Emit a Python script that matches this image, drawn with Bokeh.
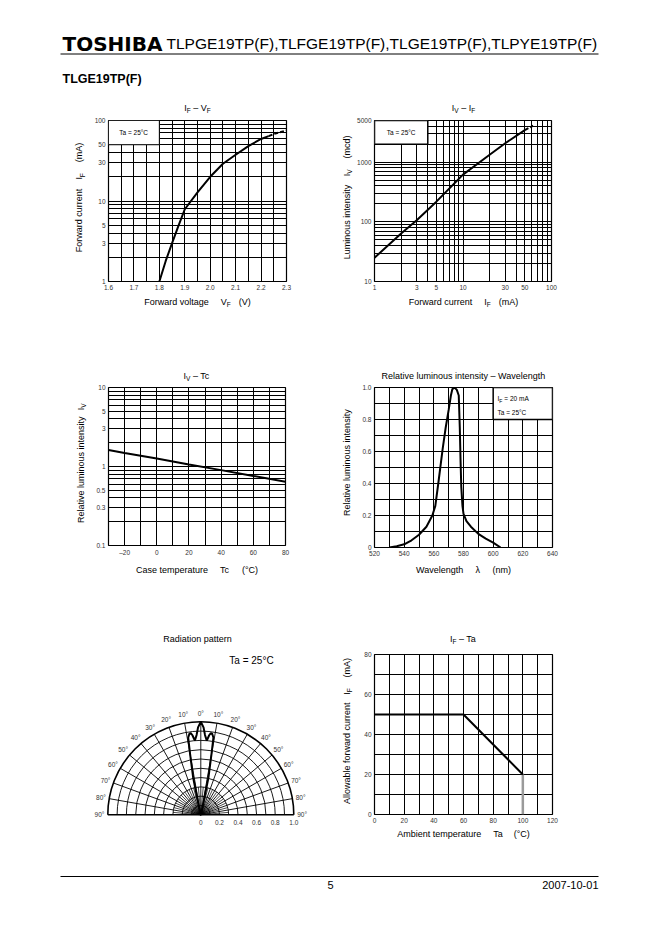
import math
import numpy as np
from bokeh.plotting import figure
from bokeh.models import Label, FixedTicker, Range1d
from bokeh.layouts import column, row
from bokeh.embed import file_html
from bokeh.resources import INLINE
from bokeh.core.properties import value

FONT = "Liberation Sans"

# ---------------- data ----------------
# IF - VF  (Ta = 25 C)
vf_volt = [1.80, 1.825, 1.85, 1.875, 1.90, 1.95, 2.00, 2.05, 2.10, 2.15, 2.20, 2.23]
vf_curr = [1.0, 1.8, 3.0, 4.9, 7.9, 12.8, 20, 29, 37.5, 48, 59, 64]
vf_volt_dash = [2.23, 2.25, 2.30]
vf_curr_dash = [64, 68, 75]
vf_xticks = [1.6, 1.7, 1.8, 1.9, 2.0, 2.1, 2.2, 2.3]
vf_xlabels = ["1.6", "1.7", "1.8", "1.9", "2.0", "2.1", "2.2", "2.3"]
vf_xgrid = [1.65, 1.7, 1.75, 1.8, 1.85, 1.9, 1.95, 2.0, 2.05, 2.1, 2.15, 2.2, 2.25]
vf_yticks = [1, 3, 5, 10, 30, 50, 100]
vf_ygrid = [2, 3, 4, 5, 6, 7, 8, 9, 10, 20, 30, 40, 50, 60, 70, 80, 90]

# IV - IF
ivif_curr = [1, 2, 3, 5, 10, 20, 30, 50]
ivif_lum = [25, 64, 106, 218, 620, 1330, 2080, 3450]
ivif_curr_dash = [50, 62]
ivif_lum_dash = [3450, 4100]
ivif_xticks = [1, 3, 5, 10, 30, 50, 100]
ivif_xgrid = [2, 3, 4, 5, 6, 7, 8, 9, 10, 20, 30, 40, 50, 60, 70, 80, 90]
ivif_yticks = [10, 100, 1000, 5000]
ivif_ygrid = [20, 30, 40, 50, 60, 70, 80, 90, 100, 200, 300, 400, 500, 600, 700, 800, 900,
              1000, 2000, 3000, 4000]

# IV - Tc
tc_temp = [-30, -20, 0, 20, 40, 60, 80]
tc_rel = [1.62, 1.48, 1.26, 1.06, 0.90, 0.76, 0.64]
tc_xticks = [-20, 0, 20, 40, 60, 80]
tc_xlabels = ["–20", "0", "20", "40", "60", "80"]
tc_xgrid = [-20, -10, 0, 10, 20, 30, 40, 50, 60, 70]
tc_yticks = [0.1, 0.3, 0.5, 1, 3, 5, 10]
tc_ygrid = [0.2, 0.3, 0.4, 0.5, 0.6, 0.7, 0.8, 0.9, 1, 2, 3, 4, 5, 6, 7, 8, 9]

# Relative luminous intensity - wavelength
wl_nm = [530, 535, 540, 545, 550, 555, 559, 561, 563, 566, 568, 570, 571.5, 572.5, 574,
         575.5, 576.8, 577.5, 578.0, 578.5, 579.3, 580, 582, 585, 590, 595, 600, 605]
wl_rel = [0.0, 0.008, 0.02, 0.045, 0.08, 0.13, 0.2, 0.26, 0.4, 0.62, 0.75, 0.86, 0.95, 0.99, 1.0,
          0.985, 0.95, 0.75, 0.55, 0.38, 0.26, 0.21, 0.165, 0.13, 0.085, 0.055, 0.03, 0.0]
wl_xticks = [520, 540, 560, 580, 600, 620, 640]
wl_xgrid = [530, 540, 550, 560, 570, 580, 590, 600, 610, 620, 630]
wl_yticks = [0, 0.2, 0.4, 0.6, 0.8, 1.0]
wl_ylabels = ["0", "0.2", "0.4", "0.6", "0.8", "1.0"]
wl_ygrid = [0.1, 0.2, 0.3, 0.4, 0.5, 0.6, 0.7, 0.8, 0.9]

# Radiation pattern
pat_deg = [-14, -13, -11.6, -10, -9.3, -8, -7, -6, -4.6, -3, -1.8, 0,
           1.8, 3, 4.6, 6, 7, 8, 9.3, 10, 11.6, 13, 14]
pat_r = [0.0, 0.08, 0.41, 0.66, 0.84, 0.88, 0.885, 0.86, 0.80, 0.86, 0.94, 1.0,
         0.94, 0.86, 0.80, 0.86, 0.885, 0.88, 0.84, 0.66, 0.41, 0.08, 0.0]
polar_arcs = [0.1, 0.2, 0.3, 0.4, 0.5, 0.6, 0.7, 0.8, 0.9]
polar_spokes = [-80, -70, -60, -50, -40, -30, -20, -10, 0, 10, 20, 30, 40, 50, 60, 70, 80]
polar_fine_spokes = [-85, -75, -65, -55, -45, -35, -25, -15, -5, 5, 15, 25, 35, 45, 55, 65, 75, 85]
polar_angle_labels = [-90, -80, -70, -60, -50, -40, -30, -20, -10, 0, 10, 20, 30, 40, 50, 60, 70, 80, 90]
polar_r_ticks = [0, 0.2, 0.4, 0.6, 0.8, 1.0]
polar_r_labels = ["0", "0.2", "0.4", "0.6", "0.8", "1.0"]

# IF - Ta derating
ta_temp = [0, 60, 100]
ta_curr = [50, 50, 20]
ta_limit_temp = [100, 100]
ta_limit_curr = [20, 0]
ta_xticks = [0, 20, 40, 60, 80, 100, 120]
ta_xgrid = [10, 20, 30, 40, 50, 60, 70, 80, 90, 100, 110]
ta_yticks = [0, 20, 40, 60, 80]
ta_ygrid = [10, 20, 30, 40, 50, 60, 70]

# ---------------- text helpers ----------------
_W = {}
for chars, w in [("ijl", 222), ("ftI .,", 278), ("r()-", 333), ("°", 400),
                 ("cksvxyzJ", 500), ("abdeghnopqu0123456789L–λ", 556), ("=", 584),
                 ("FTZ", 611), ("ABEKPSVXY", 667), ("CDHNRUw", 722), ("GOQ", 778),
                 ("mM", 833), ("W", 944)]:
    for c in chars:
        _W[c] = w


def tw(s, size):
    return sum(_W.get(c, 556) for c in s) * size / 1000.0


SUB = 3.2     # downward shift of a 6.5px subscript centre relative to a 9px text centre
ROT_K = 1.06  # rotated text renders a little longer than its nominal advance


def layout_parts(parts, px, py, anchor, angle):
    k = 1.0 if angle == 0 else ROT_K
    total = 0.0
    for part in parts:
        total += part if isinstance(part, (int, float)) else k * tw(part[0], part[1])
    pos = -total / 2 if anchor == "center" else 0.0
    out = []
    for part in parts:
        if isinstance(part, (int, float)):
            pos += part
            continue
        t, s, sh = part
        if angle == 0:
            out.append((t, s, px + pos, py + sh))
        else:
            out.append((t, s, px + sh, py - pos))
        pos += k * tw(t, s)
    return out


def rich(p, parts, px, py, anchor="center", angle=0.0, color="black"):
    """Text in a page-coordinate strip figure (x right, y down); py is the text centre."""
    for t, s, cx, cy in layout_parts(parts, px, py, anchor, angle):
        p.text(x=[cx], y=[cy], text=[t], text_font=value(FONT), text_font_size=f"{s}px",
               text_color=color, text_align="left", text_baseline="middle", angle=angle)


FRAME = {}


def rich_in(p, parts, px, py, anchor="center", color="black"):
    """Text inside a chart frame, placed with screen units relative to the frame."""
    fl, fb = FRAME[p.id]
    for t, s, cx, cy in layout_parts(parts, px, py, anchor, 0.0):
        p.add_layout(Label(x=cx - fl, y=fb - cy, x_units="screen", y_units="screen", text=t,
                           text_font=FONT, text_font_size=f"{s}px", text_color=color,
                           text_align="left", text_baseline="middle"))


def strip(x0, y0, x1, y1):
    p = figure(width=x1 - x0, height=y1 - y0, x_range=Range1d(x0, x1), y_range=Range1d(y1, y0),
               output_backend="svg", toolbar_location=None, min_border=0,
               x_axis_location=None, y_axis_location=None, outline_line_color=None)
    p.grid.visible = False
    return p


def cell(x0, y0, x1, y1, ya, yb, xb, frame, xr, yr, xtype="linear", ytype="linear"):
    fl, ft, fr, fbt = frame
    top = strip(x0, y0, x1, ya)
    left = strip(x0, ya, xb, yb)
    bottom = strip(x0, yb, x1, y1)
    W, H = x1 - xb, yb - ya
    bl, bt = fl - xb, ft - ya
    fw, fh = fr - fl, fbt - ft
    p = figure(width=W, height=H, x_range=Range1d(*xr), y_range=Range1d(*yr),
               x_axis_type=xtype, y_axis_type=ytype, output_backend="svg",
               toolbar_location=None, min_border_left=bl, min_border_top=bt,
               min_border_right=W - bl - fw, min_border_bottom=H - bt - fh)
    FRAME[p.id] = (fl, fbt)
    p.outline_line_color = "black"
    p.outline_line_width = 1.2
    p.outline_line_alpha = 1.0
    for ax in (p.xaxis, p.yaxis):
        ax.axis_line_color = None
        ax.major_tick_line_color = None
        ax.minor_tick_line_color = None
        ax.major_tick_out = 0
        ax.major_tick_in = 0
        ax.minor_tick_out = 0
        ax.major_label_text_font = FONT
        ax.major_label_text_font_size = "6.5px"
        ax.major_label_text_color = "#333333"
        ax.major_label_standoff = 3
    p.grid.grid_line_color = "black"
    p.grid.grid_line_width = 1.0
    p.grid.grid_line_alpha = 1.0
    lay = column(top, row(left, p), bottom)
    return p, top, left, bottom, lay


def ticks(p, xt, xl, xg, yt, yl, yg):
    p.xaxis.ticker = FixedTicker(ticks=xt)
    p.xaxis.major_label_overrides = dict(zip(xt, xl))
    p.yaxis.ticker = FixedTicker(ticks=yt)
    p.yaxis.major_label_overrides = dict(zip(yt, yl))
    p.xgrid.ticker = FixedTicker(ticks=xg)
    p.ygrid.ticker = FixedTicker(ticks=yg)


def lbl(v):
    return str(int(v)) if float(v).is_integer() else str(v)


UP = math.pi / 2

# ---------------- header ----------------
hdr = strip(0, 0, 654, 95)
hdr.text(x=[62], y=[43], text=["TOSHIBA"], text_font=value("DejaVu Sans"), text_font_style="bold",
         text_font_size="20px", text_align="left", text_baseline="middle", text_color="black")
hdr.text(x=[166], y=[43], text=["TLPGE19TP(F),TLFGE19TP(F),TLGE19TP(F),TLPYE19TP(F)"],
         text_font=value(FONT), text_font_size="15.5px", text_align="left",
         text_baseline="middle", text_color="black")
hdr.segment(x0=[60], y0=[53.5], x1=[598], y1=[53.5], line_color="black", line_width=1)
hdr.text(x=[62], y=[78], text=["TLGE19TP(F)"], text_font=value(FONT), text_font_style="bold",
         text_font_size="12.5px", text_align="left", text_baseline="middle", text_color="black")

# ---------------- chart 1: IF - VF ----------------
c1, t1, l1, b1, cell1 = cell(0, 95, 331, 335, 116, 292, 88, (108, 120, 286, 281),
                             (1.6, 2.3), (1, 100), ytype="log")
ticks(c1, vf_xticks, vf_xlabels, vf_xgrid, vf_yticks, [lbl(v) for v in vf_yticks], vf_ygrid)
c1.quad(left=[1.6], right=[1.8], bottom=[50], top=[100], fill_color="white",
        line_color="black", line_width=1)
c1.line(vf_volt, vf_curr, line_color="black", line_width=2)
c1.line(vf_volt_dash, vf_curr_dash, line_color="black", line_width=2, line_dash="4 2")
rich_in(c1, [("Ta = 25°C", 6.5, 0)], 133.5, 132)
rich(t1, [("I", 9, 0), ("F", 6.5, SUB), 2.5, ("– V", 9, 0), ("F", 6.5, SUB)], 197, 107)
rich(b1, [("Forward voltage", 9, 0), 12, ("V", 9, 0), ("F", 6.5, SUB), 8, ("(V)", 9, 0)], 197, 301)
rich(l1, [("Forward current", 9, 0), 12, ("I", 9, 0), ("F", 6.5, SUB), 12, ("(mA)", 9, 0)],
     78.5, 200.5, angle=UP)

# ---------------- chart 2: IV - IF ----------------
c2, t2, l2, b2, cell2 = cell(331, 95, 654, 335, 116, 292, 354, (374, 120, 551, 281),
                             (1, 100), (10, 5000), xtype="log", ytype="log")
ticks(c2, ivif_xticks, [lbl(v) for v in ivif_xticks], ivif_xgrid,
      ivif_yticks, [lbl(v) for v in ivif_yticks], ivif_ygrid)
c2.quad(left=[1], right=[4], bottom=[2000], top=[5000], fill_color="white",
        line_color="black", line_width=1.5)
c2.line(ivif_curr, ivif_lum, line_color="black", line_width=2)
c2.line(ivif_curr_dash, ivif_lum_dash, line_color="black", line_width=2, line_dash="4 2")
rich_in(c2, [("Ta = 25°C", 6.5, 0)], 401, 132)
rich(t2, [("I", 9, 0), ("V", 6.5, SUB), 2.5, ("– I", 9, 0), ("F", 6.5, SUB)], 463, 107)
rich(b2, [("Forward current", 9, 0), 12, ("I", 9, 0), ("F", 6.5, SUB), 8, ("(mA)", 9, 0)], 463, 301)
rich(l2, [("Luminous intensity", 9, 0), 12, ("I", 9, 0), ("V", 6.5, SUB), 12, ("(mcd)", 9, 0)],
     346, 200.5, angle=UP)

# ---------------- chart 3: IV - Tc ----------------
c3, t3, l3, b3, cell3 = cell(0, 335, 331, 600, 383, 558, 92, (108, 387, 285, 547),
                             (-30, 80), (0.1, 10), ytype="log")
ticks(c3, tc_xticks, tc_xlabels, tc_xgrid, tc_yticks, [lbl(v) for v in tc_yticks], tc_ygrid)
c3.line(tc_temp, tc_rel, line_color="black", line_width=2)
rich(t3, [("I", 9, 0), ("V", 6.5, SUB), 2.5, ("– Tc", 9, 0)], 196.5, 375)
rich(b3, [("Case temperature", 9, 0), 12, ("Tc", 9, 0), 12, ("(°C)", 9, 0)], 196.5, 569)
rich(l3, [("Relative luminous intensity", 9, 0), 12, ("I", 9, 0), ("V", 6.5, SUB)],
     80, 467, angle=UP)

# ---------------- chart 4: spectrum ----------------
c4, t4, l4, b4, cell4 = cell(331, 335, 654, 600, 383, 558, 354, (374, 387, 552, 547),
                             (520, 640), (0, 1.0))
ticks(c4, wl_xticks, [lbl(v) for v in wl_xticks], wl_xgrid, wl_yticks, wl_ylabels, wl_ygrid)
c4.quad(left=[600], right=[640], bottom=[0.8], top=[1.0], fill_color="white",
        line_color="black", line_width=1.5)
c4.line(wl_nm, wl_rel, line_color="black", line_width=2)
rich_in(c4, [("I", 6.5, 0), ("F", 5, 2.0), 2, ("= 20 mA", 6.5, 0)], 497, 398, anchor="left")
rich_in(c4, [("Ta = 25°C", 6.5, 0)], 497, 412, anchor="left")
rich(t4, [("Relative luminous intensity – Wavelength", 9, 0)], 463, 375)
rich(b4, [("Wavelength", 9, 0), 12, ("λ", 9, 0), 12, ("(nm)", 9, 0)], 463, 569)
rich(l4, [("Relative luminous intensity", 9, 0)], 346, 467, angle=UP)

# ---------------- chart 5: radiation pattern ----------------
PCX, PCY, PR = 200.3, 814.3, 93.0   # page centre and radius of the polar diagram


def pol(px, py):
    return (px - PCX) / PR, (PCY - py) / PR


px0, py1 = pol(0, 600)
px1, py0 = pol(331, 860)
c5 = figure(width=331, height=260, x_range=Range1d(px0, px1), y_range=Range1d(py0, py1),
            output_backend="svg", toolbar_location=None, min_border=0,
            x_axis_location=None, y_axis_location=None, outline_line_color=None)
c5.grid.visible = False
c5.arc(x=0, y=0, radius=polar_arcs, start_angle=0, end_angle=math.pi,
       line_color="black", line_width=0.9)
c5.arc(x=0, y=0, radius=1.0, start_angle=0, end_angle=math.pi, line_color="black", line_width=1.6)
sp = np.radians(polar_spokes)
c5.segment(x0=0, y0=0, x1=np.sin(sp), y1=np.cos(sp), line_color="black", line_width=0.9)
fsp = np.radians(polar_fine_spokes)
c5.segment(x0=0, y0=0, x1=0.3 * np.sin(fsp), y1=0.3 * np.cos(fsp), line_color="black", line_width=0.7)
c5.segment(x0=[-1.0], y0=[0], x1=[1.0], y1=[0], line_color="black", line_width=1.6)
pa = np.radians(pat_deg)
c5.line(np.array(pat_r) * np.sin(pa), np.array(pat_r) * np.cos(pa), line_color="black", line_width=2)
la = np.radians(polar_angle_labels)
c5.text(x=1.09 * np.sin(la), y=1.09 * np.cos(la), text=[f"{abs(a)}°" for a in polar_angle_labels],
        text_font=value(FONT), text_font_size="6.5px", text_color="#333333",
        text_align="center", text_baseline="middle")
c5.text(x=polar_r_ticks, y=[pol(0, 822)[1]] * len(polar_r_ticks), text=polar_r_labels,
        text_font=value(FONT), text_font_size="6.5px", text_color="#333333",
        text_align="center", text_baseline="middle")
tx, ty = pol(197, 638)
c5.text(x=[tx], y=[ty], text=["Radiation pattern"], text_font=value(FONT), text_font_size="9px",
        text_color="black", text_align="center", text_baseline="middle")
tx, ty = pol(251, 659.5)
c5.text(x=[tx], y=[ty], text=["Ta = 25°C"], text_font=value(FONT), text_font_size="10px",
        text_color="black", text_align="center", text_baseline="middle")

# ---------------- chart 6: IF - Ta ----------------
c6, t6, l6, b6, cell6 = cell(331, 600, 654, 860, 650, 825, 354, (374, 654, 552, 814),
                             (0, 120), (0, 80))
ticks(c6, ta_xticks, [lbl(v) for v in ta_xticks], ta_xgrid,
      ta_yticks, [lbl(v) for v in ta_yticks], ta_ygrid)
c6.line(ta_limit_temp, ta_limit_curr, line_color="#9a9a9a", line_width=2.5)
c6.line(ta_temp, ta_curr, line_color="black", line_width=2)
rich(t6, [("I", 9, 0), ("F", 6.5, SUB), 2.5, ("– Ta", 9, 0)], 463, 638)
rich(b6, [("Ambient temperature", 9, 0), 12, ("Ta", 9, 0), 10, ("(°C)", 9, 0)], 463, 833)
rich(l6, [("Allowable forward current", 9, 0), 12, ("I", 9, 0), ("F", 6.5, SUB), 12, ("(mA)", 9, 0)],
     346, 734, angle=UP)

# ---------------- footer ----------------
ftr = strip(0, 860, 654, 928)
ftr.segment(x0=[60], y0=[876], x1=[598], y1=[876], line_color="black", line_width=1)
ftr.text(x=[330], y=[884], text=["5"], text_font=value(FONT), text_font_size="11px",
         text_align="center", text_baseline="middle", text_color="black")
ftr.text(x=[598], y=[884], text=["2007-10-01"], text_font=value(FONT), text_font_size="11px",
         text_align="right", text_baseline="middle", text_color="black")

page = column(hdr, row(cell1, cell2), row(cell3, cell4), row(c5, cell6), ftr)
open("out.html", "w").write(file_html(page, INLINE))
